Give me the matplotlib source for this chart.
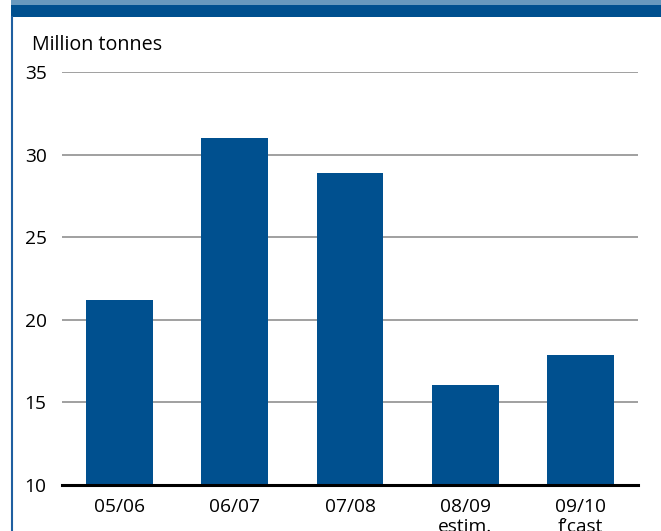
import matplotlib
matplotlib.use("Agg")
import matplotlib.pyplot as plt
from matplotlib.patches import Rectangle
from matplotlib.lines import Line2D

categories = ["05/06", "06/07", "07/08", "08/09\nestim.", "09/10\nf\u2019cast"]
values = [21.2, 31.0, 28.9, 16.05, 17.85]
yticks = [10, 15, 20, 25, 30, 35]

plt.rcParams['font.family'] = ['Open Sans', 'DejaVu Sans']
W, H = 661, 531
fig = plt.figure(figsize=(W / 100, H / 100), dpi=100)
fig.patch.set_facecolor("white")

# top bands and left border
fig.patches.append(Rectangle((11 / W, 1 - 5 / H), 1, 5 / H, transform=fig.transFigure,
                             facecolor="#6899BE", edgecolor="none"))
fig.patches.append(Rectangle((11 / W, 1 - 17 / H), 1, 12 / H, transform=fig.transFigure,
                             facecolor="#00508F", edgecolor="none"))
fig.lines.append(Line2D([11.5 / W, 11.5 / W], [0, 1 - 17 / H], transform=fig.transFigure,
                        color="#1F5FA0", lw=1.5))

ax = fig.add_axes([62 / W, 1 - 485 / H, (638 - 62) / W, (485 - 72) / H])
x = range(len(categories))
ax.bar(x, values, width=0.58, color="#00508F", zorder=3, bottom=0)
ax.set_xlim(-0.5, 4.5)
ax.set_ylim(10, 35)
ax.set_yticks(yticks)
ax.set_yticklabels([str(t) for t in yticks], fontsize=13.8)
ax.set_xticks(list(x))
ax.set_xticklabels(categories, fontsize=13.8, linespacing=1.15, va="top")
ax.tick_params(axis="y", length=0, pad=11)
ax.tick_params(axis="x", length=0, pad=9)
for t in yticks[1:]:
    ax.axhline(t, color="#999999", lw=1.3, zorder=1)
ax.axhline(10, color="black", lw=2.2, zorder=4, clip_on=False)
for s in ax.spines.values():
    s.set_visible(False)

fig.text(32 / W, 1 - 45 / H, "Million tonnes", fontsize=14.2, va="center", ha="left")

fig.savefig("out.png", dpi=100)
